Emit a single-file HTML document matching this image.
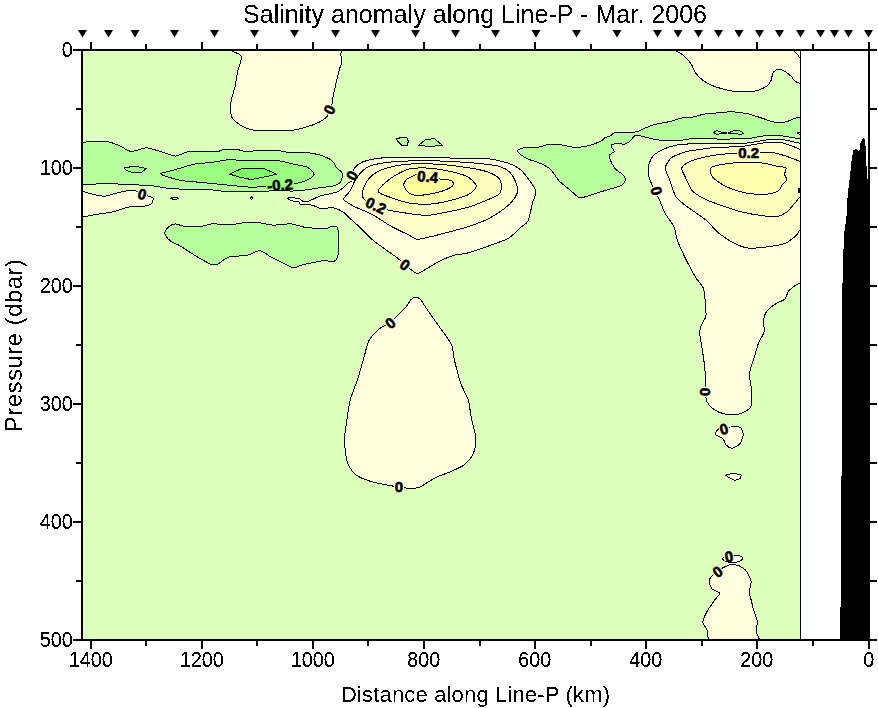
<!DOCTYPE html>
<html><head><meta charset="utf-8"><title>Salinity anomaly along Line-P</title>
<style>html,body{margin:0;padding:0;background:#fff;}body{width:878px;height:708px;overflow:hidden;}svg{display:block;}text{font-family:"Liberation Sans",sans-serif;fill:#000;}</style></head><body>
<svg width="878" height="708" viewBox="0 0 878 708">
<rect width="878" height="708" fill="#fff"/>
<defs><clipPath id="c"><rect x="82" y="50" width="719" height="590"/></clipPath><filter id="t" x="-10%" y="-25%" width="120%" height="150%" color-interpolation-filters="sRGB"><feComponentTransfer><feFuncA type="discrete" tableValues="0 0 0 1 1 1"/></feComponentTransfer></filter><filter id="t2" x="-5%" y="-5%" width="110%" height="110%" color-interpolation-filters="sRGB"><feComponentTransfer><feFuncA type="discrete" tableValues="0 0 1 1 1"/></feComponentTransfer></filter></defs>
<rect x="82" y="50" width="719" height="590" fill="#dcffbc"/>
<g clip-path="url(#c)" stroke="#000" stroke-width="1" stroke-linejoin="round" shape-rendering="crispEdges">
<path d="M232.0,49.0 C218.2,49.2 230.8,50.1 232.0,51.0 C233.2,51.9 240.8,53.9 241.5,56.5 C242.2,59.1 238.3,68.3 237.5,72.1 C236.7,75.8 235.8,83.1 235.1,86.5 C234.3,89.9 232.1,96.4 231.5,99.2 C230.9,102.0 230.3,106.5 230.4,108.8 C230.5,111.1 231.1,115.8 232.0,117.6 C232.9,119.4 235.8,121.8 237.5,123.1 C239.2,124.4 243.3,127.0 245.5,127.9 C247.7,128.8 251.7,130.0 255.1,130.3 C258.5,130.6 268.0,130.6 272.6,130.6 C277.2,130.6 287.6,130.7 291.8,130.3 C296.0,129.9 302.7,128.1 306.1,127.1 C309.5,126.1 316.3,123.6 318.9,122.3 C321.5,121.0 325.5,118.3 326.8,116.8 C328.1,115.2 328.7,111.6 329.4,109.9 C330.1,108.2 331.9,104.9 332.4,103.2 C332.9,101.5 332.7,98.7 333.2,96.0 C333.7,93.3 335.6,85.1 336.4,81.7 C337.2,78.3 338.9,71.5 339.6,68.9 C340.3,66.3 341.9,62.8 342.0,61.0 C342.1,59.2 340.7,55.9 340.7,54.6 C340.7,53.4 341.8,51.7 342.0,51.0 C342.2,50.3 355.8,49.2 342.0,49.0 C328.2,48.8 245.8,48.8 232.0,49.0Z" fill="#ffffdc"/>
<path d="M676.4,49.0 C660.8,49.2 675.5,50.1 676.4,50.9 C677.3,51.7 681.9,53.9 683.7,55.5 C685.5,57.1 689.5,61.5 691.0,63.7 C692.5,65.9 693.9,70.6 695.5,72.8 C697.1,75.0 701.3,79.3 703.7,81.0 C706.1,82.7 710.8,85.2 714.7,86.5 C718.6,87.8 729.7,90.8 734.7,91.4 C739.7,92.0 750.7,91.7 754.8,91.0 C758.9,90.3 765.5,87.0 767.5,85.6 C769.5,84.2 770.5,81.7 771.2,80.1 C771.9,78.5 772.1,74.2 773.0,72.8 C773.9,71.4 776.9,69.3 778.5,69.2 C780.1,69.1 784.1,71.0 785.7,71.9 C787.3,72.8 790.1,75.3 791.2,76.4 C792.4,77.5 793.7,80.1 794.9,81.0 C796.1,81.9 799.7,83.4 800.5,83.7 C801.3,84.0 800.9,88.0 801.0,83.7 C801.1,79.4 816.6,53.3 801.0,49.0 C785.4,44.7 692.0,48.8 676.4,49.0Z" fill="#ffffdc"/>
<path d="M794.0,50.9 C794.4,51.3 796.2,53.1 797.0,54.0 C797.8,54.9 799.6,57.7 800.0,58.2" fill="none"/>
<path d="M81.0,142.3 C81.2,137.1 81.2,142.5 83.0,142.3 C84.8,142.2 92.1,141.2 95.1,141.1 C98.1,141.0 104.0,141.1 107.0,141.6 C110.0,142.1 116.0,144.2 119.0,145.4 C122.0,146.6 127.6,151.1 131.0,151.4 C134.4,151.7 142.7,147.9 146.3,147.9 C149.9,147.9 156.4,150.4 160.0,151.4 C163.6,152.4 172.0,156.0 175.4,156.1 C178.8,156.2 183.5,152.5 187.3,151.9 C191.1,151.3 202.2,151.5 206.1,151.4 C209.9,151.3 215.9,151.6 218.1,151.4 C220.3,151.2 221.1,149.8 223.5,149.6 C225.9,149.4 234.4,149.4 237.2,149.6 C240.0,149.8 243.0,151.3 245.8,151.4 C248.6,151.5 255.6,150.7 259.4,150.5 C263.2,150.3 273.1,150.0 276.5,150.2 C279.9,150.4 283.8,151.9 286.8,152.2 C289.8,152.4 297.4,152.1 300.4,152.2 C303.4,152.3 307.7,152.6 310.7,153.1 C313.7,153.6 321.5,155.4 324.3,156.5 C327.1,157.6 331.4,160.2 332.9,161.6 C334.4,163.0 335.2,166.3 336.3,167.6 C337.4,168.9 340.6,170.7 341.4,171.9 C342.1,173.1 342.5,175.6 342.3,177.0 C342.1,178.4 340.9,181.9 339.7,183.0 C338.5,184.1 335.7,185.4 332.9,186.0 C330.1,186.6 321.6,187.5 317.5,188.1 C313.4,188.7 303.8,190.3 300.4,190.7 C297.0,191.1 293.4,191.0 290.2,191.0 C287.0,191.0 278.9,190.6 274.8,190.7 C270.7,190.8 262.0,191.7 257.7,191.8 C253.4,191.9 244.4,191.5 240.6,191.5 C236.8,191.5 230.7,192.0 227.0,191.8 C223.3,191.6 216.0,190.1 211.3,189.8 C206.6,189.5 194.7,189.7 189.1,189.5 C183.5,189.3 171.7,188.6 166.8,188.1 C161.9,187.6 154.5,185.9 149.8,185.5 C145.1,185.1 134.0,184.9 129.3,184.7 C124.6,184.5 118.0,183.9 112.2,183.8 C106.4,183.8 86.9,184.2 83.0,184.3 C79.1,184.4 81.2,189.6 81.0,184.3 C80.8,179.1 80.8,147.6 81.0,142.3Z" fill="#b6ff9c"/>
<path d="M160.9,174.1 C160.1,172.8 169.5,171.3 173.7,170.1 C177.9,168.9 189.5,165.1 194.2,164.2 C198.9,163.2 207.2,163.0 211.3,162.5 C215.4,162.0 222.7,160.2 227.0,159.9 C231.3,159.6 239.4,160.3 245.8,160.4 C252.2,160.5 272.2,160.3 278.2,160.8 C284.2,161.3 290.0,163.4 293.6,164.2 C297.2,165.0 304.7,166.0 307.3,167.2 C309.9,168.4 314.0,172.6 314.1,174.1 C314.2,175.6 310.5,178.3 308.1,179.5 C305.8,180.7 298.7,183.0 295.3,183.8 C291.9,184.6 284.6,185.7 281.0,186.0 C277.4,186.3 270.1,186.2 266.3,186.4 C262.5,186.6 255.2,187.3 250.9,187.2 C246.6,187.1 236.6,185.9 232.1,185.5 C227.6,185.1 219.0,184.2 214.7,183.8 C210.4,183.4 201.9,182.5 197.6,182.1 C193.3,181.7 185.1,181.4 180.5,180.4 C175.9,179.4 161.8,175.4 160.9,174.1Z" fill="#9bff80"/>
<path d="M124.1,167.9 L134.4,166.2 L146.3,168.4 L141.2,172.7 L132.7,172.7 L126.7,170.7Z" fill="#9bff80"/>
<path d="M229.5,174.1 L240.6,169.0 L263.7,168.4 L276.5,174.1 L264.5,177.0 L250.9,179.5 L238.9,177.0Z" fill="#7cff68"/>
<path d="M81.0,191.5 C81.2,188.3 81.2,191.1 83.0,191.5 C84.8,191.9 92.3,194.3 95.1,194.9 C97.9,195.5 102.3,196.4 105.3,196.1 C108.3,195.8 115.6,193.2 119.0,192.4 C122.4,191.7 130.6,190.2 132.7,190.1 C134.8,189.9 134.9,190.8 136.1,191.2 C137.3,191.6 140.5,192.9 142.1,193.5 C143.7,194.1 147.5,195.7 148.9,196.3 C150.3,196.9 152.9,197.4 153.2,198.3 C153.5,199.2 152.5,202.5 151.5,203.5 C150.5,204.5 148.1,205.6 145.5,206.0 C142.9,206.4 135.2,205.7 131.0,206.4 C126.8,207.2 116.7,211.0 112.2,212.0 C107.7,213.0 98.8,214.0 95.1,214.6 C91.4,215.2 84.8,216.8 83.0,217.1 C81.2,217.4 81.2,220.3 81.0,217.1 C80.8,213.9 80.8,194.7 81.0,191.5Z" fill="#ffffdc"/>
<path d="M170.3,198.3 L175.0,197.0 L178.8,198.3 L175.0,199.8Z" fill="#dcffbc"/>
<path d="M250.0,198.3 L251.4,197.0 L252.8,198.3 L251.4,199.6Z" fill="#dcffbc"/>
<path d="M164.8,233.7 C164.5,232.0 166.9,228.5 168.2,227.3 C169.5,226.1 173.1,224.0 175.1,223.9 C177.1,223.8 180.8,225.9 184.2,226.2 C187.6,226.5 199.0,226.5 202.4,226.2 C205.8,225.9 207.8,224.1 211.5,223.9 C215.2,223.7 227.7,224.8 232.0,224.6 C236.3,224.4 242.6,222.6 245.7,222.3 C248.8,222.0 253.7,222.0 257.1,222.3 C260.5,222.7 268.7,224.9 273.0,225.1 C277.3,225.3 287.2,223.6 291.2,223.9 C295.2,224.2 300.6,226.7 304.9,227.3 C309.2,227.9 322.0,228.6 325.4,228.5 C328.8,228.4 330.8,226.4 332.2,226.2 C333.6,226.0 336.0,225.9 336.8,226.9 C337.6,227.9 338.4,230.7 338.6,234.2 C338.8,237.7 338.6,251.4 338.2,254.7 C337.8,258.0 336.5,259.5 335.6,260.4 C334.7,261.3 332.4,262.0 331.1,262.0 C329.8,262.0 328.1,260.2 325.4,260.4 C322.7,260.6 312.6,262.7 309.5,263.3 C306.4,263.9 302.3,264.8 300.3,265.4 C298.3,266.0 295.5,268.1 293.5,267.9 C291.5,267.7 287.2,265.2 284.4,263.8 C281.5,262.4 273.8,258.5 270.7,256.9 C267.6,255.2 262.9,250.8 260.0,250.6 C257.1,250.4 251.7,254.3 247.9,255.1 C244.1,255.9 232.8,256.2 229.7,256.9 C226.6,257.6 224.3,259.5 222.9,260.4 C221.5,261.3 219.7,263.3 218.3,263.8 C216.9,264.3 214.3,265.5 211.5,264.5 C208.7,263.5 199.6,258.2 195.6,255.8 C191.6,253.4 182.7,247.4 179.6,245.6 C176.5,243.8 172.3,242.5 170.5,241.0 C168.7,239.5 165.1,235.4 164.8,233.7Z" fill="#b6ff9c"/>
<path d="M287.6,198.3 C287.4,197.9 288.8,198.0 290.2,198.0 C291.6,198.0 297.0,197.8 298.7,198.3 C300.4,198.8 302.6,201.4 303.8,201.8 C305.0,202.2 306.0,202.2 308.1,201.4 C310.2,200.7 317.2,197.0 320.9,195.8 C324.6,194.6 334.6,193.1 338.0,191.5 C341.4,189.9 346.4,184.5 348.3,183.0 C350.2,181.5 352.9,180.6 353.4,179.5 C353.9,178.4 352.3,175.5 352.5,174.0 C352.7,172.5 353.5,169.1 354.8,167.6 C356.1,166.1 360.1,163.0 362.8,161.9 C365.5,160.8 372.1,159.1 376.4,158.5 C380.7,157.9 390.1,157.5 396.9,157.3 C403.7,157.2 422.8,157.2 431.1,157.3 C439.4,157.5 456.2,158.3 463.0,158.5 C469.8,158.7 480.7,158.1 485.8,158.5 C490.9,158.9 500.0,160.8 504.0,161.9 C508.0,163.0 514.9,165.8 517.7,167.6 C520.6,169.4 524.5,173.7 526.8,176.7 C529.1,179.7 535.2,188.2 535.9,191.5 C536.6,194.8 533.5,199.2 532.5,202.9 C531.5,206.6 529.5,218.0 527.9,221.1 C526.3,224.2 522.4,225.8 520.0,227.9 C517.6,230.0 512.6,235.9 508.6,238.2 C504.6,240.5 493.1,244.3 488.0,246.2 C482.9,248.0 471.9,251.9 467.6,253.0 C463.3,254.1 457.6,254.2 453.9,255.3 C450.2,256.4 441.6,260.2 437.9,262.1 C434.2,264.0 426.9,268.7 424.3,270.1 C421.7,271.5 419.1,273.6 417.4,273.5 C415.7,273.4 412.2,270.5 410.6,269.4 C409.0,268.3 406.6,265.9 404.9,264.4 C403.2,262.9 399.3,259.5 396.9,257.6 C394.5,255.8 388.7,251.9 385.6,249.6 C382.5,247.3 375.0,242.0 371.9,239.3 C368.8,236.6 363.0,230.3 360.5,227.9 C358.0,225.5 353.9,222.0 351.7,220.0 C349.5,218.0 345.5,213.5 343.1,212.0 C340.8,210.5 335.7,208.1 332.9,207.7 C330.1,207.3 323.5,208.9 320.9,208.6 C318.3,208.3 315.0,205.7 312.4,205.2 C309.8,204.7 302.1,204.7 300.4,204.3 C298.7,203.9 299.8,202.2 298.7,201.8 C297.6,201.4 293.3,201.3 291.9,200.9 C290.5,200.5 287.8,198.7 287.6,198.3Z" fill="#ffffdc"/>
<path d="M343.5,199.0 C343.5,198.6 343.8,198.3 344.6,197.2 C345.5,196.1 348.9,192.7 350.3,190.4 C351.7,188.1 354.0,181.7 355.9,179.0 C357.8,176.3 362.5,170.5 365.1,168.7 C367.7,166.8 372.1,165.1 376.4,164.2 C380.7,163.3 392.4,161.8 399.2,161.4 C406.0,161.0 423.7,160.7 431.1,160.8 C438.5,160.9 451.7,161.5 458.5,161.9 C465.3,162.3 480.7,163.6 485.8,164.2 C490.9,164.8 496.5,165.4 499.5,166.4 C502.5,167.4 507.7,170.2 509.7,172.1 C511.7,174.0 514.4,178.9 515.4,181.3 C516.4,183.7 518.3,188.8 517.7,191.5 C517.1,194.2 513.1,200.3 510.8,202.9 C508.5,205.5 502.6,209.9 499.5,212.0 C496.4,214.1 489.8,218.2 485.8,220.0 C481.8,221.8 472.4,225.2 467.6,226.8 C462.8,228.4 451.7,231.3 447.1,232.5 C442.5,233.7 434.8,235.8 431.1,236.6 C427.4,237.4 420.2,239.5 417.4,239.3 C414.5,239.1 411.7,236.5 408.3,234.8 C404.9,233.1 394.7,228.3 390.1,225.7 C385.6,223.1 376.4,216.7 371.9,214.3 C367.3,211.9 357.1,208.0 353.7,206.3 C350.3,204.6 345.9,201.5 344.6,200.6 C343.3,199.7 343.5,199.4 343.5,199.0Z" fill="#ffffcc"/>
<path d="M362.8,197.2 C362.2,195.8 362.1,192.7 362.8,190.4 C363.5,188.1 366.5,181.4 368.5,179.0 C370.5,176.6 375.4,172.6 378.7,171.0 C382.0,169.4 390.1,166.9 394.7,166.0 C399.3,165.1 409.2,163.9 415.2,163.7 C421.2,163.5 435.9,164.1 442.5,164.6 C449.1,165.1 461.9,166.7 467.6,167.6 C473.3,168.5 484.1,170.7 488.1,172.1 C492.1,173.5 497.9,177.2 499.5,179.0 C501.1,180.8 501.3,185.1 501.3,186.9 C501.3,188.8 501.4,192.1 499.5,193.8 C497.6,195.5 489.8,198.9 485.8,200.6 C481.8,202.3 472.4,206.0 467.6,207.4 C462.8,208.8 452.2,211.0 447.1,212.0 C442.0,213.0 431.7,215.3 426.6,215.4 C421.5,215.5 410.8,213.8 406.1,213.1 C401.4,212.4 392.7,211.1 389.0,210.2 C385.3,209.3 379.1,206.9 376.4,205.8 C373.7,204.8 369.0,202.9 367.3,201.8 C365.6,200.7 363.4,198.6 362.8,197.2Z" fill="#ffffbc"/>
<path d="M378.3,190.4 C378.9,189.0 383.3,184.4 385.6,182.4 C387.9,180.4 393.8,176.1 396.9,174.4 C400.0,172.7 406.3,169.5 410.6,168.7 C414.9,167.9 426.0,167.9 431.1,168.3 C436.2,168.7 447.0,170.6 451.6,171.7 C456.2,172.8 464.5,174.9 467.6,176.7 C470.7,178.5 475.9,183.7 476.2,185.8 C476.5,187.9 472.6,192.1 469.8,193.8 C467.0,195.5 458.7,198.2 453.9,199.5 C449.1,200.8 436.8,203.6 431.1,204.0 C425.4,204.4 413.4,203.8 408.3,202.9 C403.2,202.1 393.5,198.3 390.1,197.2 C386.7,196.1 382.5,194.7 381.0,193.8 C379.5,193.0 377.7,191.8 378.3,190.4Z" fill="#ffffac"/>
<path d="M403.8,184.7 C403.8,183.1 405.5,180.3 407.2,179.0 C408.9,177.7 414.8,174.8 417.4,174.4 C420.0,174.0 425.1,174.9 428.0,175.5 C430.9,176.1 437.2,178.4 440.2,179.0 C443.1,179.6 450.0,179.8 451.6,180.6 C453.2,181.4 453.9,184.5 452.8,185.8 C451.7,187.1 445.5,189.9 442.5,191.0 C439.5,192.1 432.2,193.6 428.8,194.2 C425.4,194.8 417.9,195.7 415.2,195.4 C412.5,195.1 408.6,192.8 407.2,191.5 C405.8,190.2 403.8,186.3 403.8,184.7Z" fill="#ffff9c"/>
<path d="M396.3,139.1 L401.5,137.3 L407.2,138.0 L408.3,141.4 L407.2,145.5 L402.0,145.5 L398.8,142.5Z" fill="#b6ff9c"/>
<path d="M418.6,145.5 L425.4,139.6 L434.5,138.7 L442.5,145.5 L430.0,146.4Z" fill="#b6ff9c"/>
<path d="M517.3,150.7 C517.8,149.8 521.9,148.2 524.6,147.7 C527.3,147.2 536.2,147.4 539.2,147.0 C542.2,146.6 545.8,144.6 548.3,144.3 C550.8,144.0 555.8,144.2 559.2,144.6 C562.6,145.0 571.7,147.3 575.6,147.4 C579.5,147.5 587.0,146.0 590.2,145.2 C593.4,144.4 599.3,141.9 601.1,141.0 C602.9,140.1 603.5,138.6 604.8,137.9 C606.0,137.2 609.9,136.1 611.1,135.5 C612.4,134.9 611.7,133.2 614.8,132.8 C617.9,132.4 631.9,132.5 635.7,131.9 C639.5,131.3 642.6,129.1 644.9,128.2 C647.2,127.3 650.9,125.4 654.0,124.6 C657.1,123.8 666.7,122.3 670.0,121.5 C673.3,120.7 678.2,118.6 680.7,118.1 C683.2,117.6 687.1,118.2 690.0,117.7 C692.9,117.2 700.6,114.8 704.1,114.2 C707.6,113.6 714.7,113.1 718.2,112.8 C721.7,112.5 728.9,111.7 732.4,111.8 C735.9,111.9 743.0,112.8 746.5,113.5 C750.0,114.2 757.1,116.6 760.6,117.7 C764.1,118.8 771.5,121.7 774.7,122.2 C777.9,122.7 783.5,122.4 786.0,121.9 C788.5,121.4 792.7,119.0 794.5,118.4 C796.3,117.8 799.7,117.5 800.5,117.4 C801.3,117.3 800.9,114.7 801.0,117.4 C801.1,120.1 801.1,136.2 801.0,138.9 C800.9,141.6 801.7,139.1 800.5,138.9 C799.3,138.7 793.9,137.9 791.6,137.5 C789.3,137.1 784.6,136.1 781.8,135.8 C779.0,135.5 772.1,135.3 769.1,135.4 C766.1,135.5 760.6,136.4 757.8,136.8 C755.0,137.2 749.7,138.6 746.5,138.9 C743.3,139.2 735.9,138.8 732.4,138.9 C728.9,139.0 720.3,139.7 718.2,139.6 C716.1,139.5 717.2,138.4 715.4,138.2 C713.6,138.0 707.3,138.1 704.1,138.2 C700.9,138.3 692.9,138.7 690.0,138.9 C687.1,139.2 684.4,140.0 680.7,140.2 C677.0,140.4 664.1,140.4 660.3,140.2 C656.5,140.0 653.1,138.9 650.3,138.3 C647.5,137.7 639.6,135.4 637.6,135.2 C635.6,135.0 634.8,135.7 633.9,136.4 C633.0,137.1 631.5,140.0 630.3,141.0 C629.0,142.0 625.3,144.0 623.9,144.3 C622.5,144.6 620.8,143.4 619.3,143.4 C617.8,143.4 613.1,144.2 612.1,144.6 C611.1,145.0 610.8,145.7 611.1,146.5 C611.4,147.3 614.4,150.4 614.2,151.4 C614.1,152.4 610.5,153.9 609.9,154.7 C609.3,155.4 608.7,155.7 609.3,157.4 C609.9,159.1 613.5,166.5 614.8,168.3 C616.0,170.1 618.2,171.1 619.3,172.0 C620.4,172.9 623.2,174.6 623.9,175.6 C624.6,176.6 625.5,178.9 625.2,180.2 C624.9,181.4 623.8,184.3 621.2,185.6 C618.7,186.9 609.8,189.1 604.8,190.6 C599.8,192.1 584.6,197.3 581.1,197.9 C577.6,198.5 578.0,196.8 576.5,195.7 C575.0,194.6 571.4,191.1 569.2,189.3 C567.0,187.5 561.0,182.9 559.2,181.1 C557.4,179.3 555.9,176.3 554.6,174.7 C553.4,173.1 551.2,169.8 549.2,168.3 C547.2,166.8 540.8,163.6 538.2,162.5 C535.6,161.4 530.4,160.2 528.2,159.2 C526.0,158.2 522.3,155.8 520.9,154.7 C519.5,153.6 516.8,151.6 517.3,150.7Z" fill="#b6ff9c"/>
<path d="M713.3,132.6 L717.0,130.6 L721.0,132.0 L726.7,133.0 L721.0,133.6 L717.0,134.6Z" fill="#9bff80"/>
<path d="M728.1,133.0 L733.0,131.0 L737.0,130.2 L741.0,131.4 L743.6,133.4 L740.0,134.6 L736.0,133.2 L731.0,133.4Z" fill="#9bff80"/>
<path d="M797.3,133.0 L799.0,132.0 L801.0,132.0 L801.0,134.0 L799.0,134.0Z" fill="#9bff80"/>
<path d="M801.0,143.4 C800.9,126.0 801.7,143.7 800.5,143.4 C799.3,143.2 793.9,141.9 791.6,141.4 C789.3,140.9 784.6,139.8 781.8,139.6 C779.0,139.4 772.1,139.4 769.1,139.6 C766.1,139.8 760.6,141.0 757.8,141.4 C755.0,141.8 749.7,142.8 746.5,143.1 C743.3,143.3 737.7,143.4 732.4,143.4 C727.1,143.4 709.4,143.0 704.1,143.1 C698.8,143.2 693.5,143.5 690.0,143.8 C686.5,144.1 679.3,144.6 676.2,145.2 C673.1,145.8 667.7,147.3 664.9,148.6 C662.1,149.9 655.6,153.3 653.6,155.4 C651.6,157.5 649.2,162.9 648.6,165.6 C648.0,168.3 648.7,174.7 649.0,176.9 C649.3,179.1 650.6,181.3 651.2,183.0 C651.8,184.7 653.0,188.3 654.0,190.4 C655.0,192.5 657.8,196.7 659.2,199.5 C660.6,202.3 663.1,209.6 664.9,213.0 C666.7,216.4 672.4,223.2 673.9,226.6 C675.4,230.0 676.2,237.0 677.3,240.2 C678.4,243.4 681.0,248.9 682.6,252.4 C684.2,255.9 688.6,264.7 690.4,268.0 C692.1,271.3 695.0,276.3 696.6,278.8 C698.2,281.3 702.3,285.3 703.4,288.2 C704.5,291.1 705.0,298.6 705.3,302.1 C705.6,305.6 706.4,313.2 705.9,316.1 C705.4,319.0 702.1,323.3 701.3,325.4 C700.5,327.5 699.6,330.5 699.7,333.2 C699.8,335.9 701.3,343.3 701.9,347.2 C702.5,351.1 704.0,360.6 704.4,364.3 C704.8,368.0 705.2,373.3 705.3,376.7 C705.4,380.1 705.1,388.5 705.3,391.6 C705.5,394.7 705.8,399.4 706.9,401.6 C708.0,403.8 711.5,407.8 713.7,409.3 C715.9,410.9 721.7,413.3 724.6,414.0 C727.5,414.7 734.3,415.0 737.0,414.6 C739.7,414.2 744.5,412.1 746.3,410.9 C748.1,409.7 751.0,407.8 751.6,404.7 C752.2,401.6 751.3,389.9 751.0,386.0 C750.7,382.1 749.0,377.1 749.4,373.6 C749.8,370.1 752.9,362.0 754.1,358.1 C755.3,354.2 757.4,345.8 758.7,342.5 C760.0,339.2 763.7,334.4 764.3,331.7 C764.9,329.0 763.1,323.3 763.4,320.8 C763.7,318.3 765.0,313.6 766.5,311.5 C768.0,309.4 773.5,305.3 775.8,303.7 C778.1,302.1 783.5,300.6 785.1,299.0 C786.7,297.4 786.9,293.1 788.3,291.3 C789.7,289.6 794.5,286.1 796.0,285.0 C797.5,283.9 799.9,283.2 800.5,282.9 C801.1,282.6 800.9,300.3 801.0,282.9 C801.1,265.5 801.1,160.8 801.0,143.4Z" fill="#ffffdc"/>
<path d="M801.0,149.5 C800.9,139.6 801.7,149.9 800.5,149.5 C799.3,149.1 793.9,146.7 791.6,145.9 C789.3,145.1 784.6,143.2 781.8,142.8 C779.0,142.4 772.1,142.3 769.1,142.4 C766.1,142.5 760.6,143.4 757.8,143.8 C755.0,144.2 749.7,145.5 746.5,145.9 C743.3,146.3 736.3,146.7 732.4,146.9 C728.5,147.1 718.9,147.2 715.4,147.4 C711.9,147.6 707.3,148.4 704.1,148.8 C700.9,149.2 692.4,150.5 690.0,150.9 C687.6,151.3 687.5,151.2 685.2,152.0 C682.9,152.8 674.1,155.6 671.6,157.6 C669.1,159.6 665.6,165.1 665.3,167.8 C665.0,170.5 668.0,175.4 669.4,179.1 C670.8,182.8 673.7,193.5 676.2,197.2 C678.7,200.9 686.0,205.7 689.7,208.5 C693.4,211.3 701.9,216.7 705.6,219.8 C709.3,222.9 715.4,230.4 719.1,233.4 C722.8,236.4 731.2,241.8 734.9,243.6 C738.6,245.4 744.5,247.7 748.5,248.1 C752.5,248.5 762.1,247.5 766.6,246.9 C771.1,246.3 781.0,245.0 784.7,243.6 C788.4,242.2 794.0,237.4 796.0,235.6 C798.0,233.8 799.9,229.7 800.5,228.9 C801.1,228.1 800.9,238.8 801.0,228.9 C801.1,219.0 801.1,159.4 801.0,149.5Z" fill="#ffffcc"/>
<path d="M801.0,161.5 C800.9,157.2 802.4,162.2 800.5,161.5 C798.6,160.8 789.2,157.2 786.0,156.1 C782.8,155.0 777.8,153.5 774.7,153.0 C771.6,152.5 764.6,152.3 761.3,152.3 C758.0,152.3 751.9,152.7 748.6,152.8 C745.3,152.9 739.0,153.2 735.2,153.4 C731.4,153.6 722.1,154.2 718.2,154.7 C714.3,155.2 707.6,156.3 704.1,157.2 C700.6,158.0 692.8,160.2 690.0,161.5 C687.2,162.8 682.4,165.9 681.8,167.8 C681.2,169.7 683.9,174.1 685.2,176.9 C686.5,179.7 689.5,187.6 692.0,190.4 C694.5,193.2 701.6,197.5 705.6,199.5 C709.6,201.5 719.1,204.6 723.6,206.2 C728.1,207.8 736.9,210.7 741.7,211.9 C746.5,213.1 757.6,215.1 762.1,215.7 C766.6,216.3 774.8,216.9 777.9,216.4 C781.0,215.9 784.6,213.7 786.9,211.9 C789.2,210.1 794.3,203.7 796.0,201.7 C797.7,199.7 799.9,196.8 800.5,196.1 C801.1,195.4 800.9,200.4 801.0,196.1 C801.1,191.8 801.1,165.8 801.0,161.5Z" fill="#ffffbc"/>
<path d="M710.5,169.2 C710.8,168.1 711.4,167.1 713.3,166.4 C715.1,165.8 722.0,164.5 725.3,164.0 C728.6,163.5 735.3,162.7 739.4,162.5 C743.5,162.3 754.1,162.3 757.8,162.5 C761.5,162.7 766.6,163.8 769.1,164.3 C771.6,164.8 775.4,166.0 777.5,166.4 C779.6,166.8 785.1,166.8 786.0,167.8 C786.9,168.8 784.5,172.7 784.6,174.2 C784.7,175.7 787.1,178.4 786.7,179.8 C786.4,181.2 782.8,184.2 781.8,185.5 C780.8,186.8 780.5,189.3 778.9,190.4 C777.3,191.5 772.5,193.5 769.1,193.9 C765.8,194.3 756.0,194.2 752.1,193.9 C748.2,193.6 741.4,192.1 738.0,191.1 C734.6,190.1 728.1,187.6 725.3,186.2 C722.5,184.8 717.2,181.2 715.4,179.8 C713.6,178.4 711.8,176.2 711.2,174.9 C710.6,173.6 710.2,170.3 710.5,169.2Z" fill="#ffffac"/>
<path d="M715.2,434.2 C714.8,432.8 718.0,428.9 719.9,428.0 C721.8,427.1 728.3,427.1 730.8,427.0 C733.3,426.9 738.5,426.4 740.1,427.3 C741.7,428.2 743.2,432.2 743.2,434.2 C743.2,436.2 741.5,441.8 740.1,443.5 C738.7,445.2 734.0,448.0 732.3,448.2 C730.5,448.4 727.3,446.2 726.1,445.0 C724.9,443.8 724.4,440.2 723.0,438.8 C721.6,437.4 715.6,435.6 715.2,434.2Z" fill="#ffffdc"/>
<path d="M725.6,475.1 L733.6,473.2 L741.2,475.1 L740.3,478.6 L735.0,480.5 L728.3,477.3Z" fill="#ffffdc"/>
<path d="M722.4,558.3 C723.2,557.5 731.2,555.8 733.6,555.6 C736.0,555.4 740.1,555.9 741.2,556.4 C742.3,556.9 742.8,558.9 742.2,559.6 C741.6,560.3 738.2,562.0 736.3,562.3 C734.4,562.6 728.6,562.2 726.9,561.7 C725.2,561.2 721.6,559.1 722.4,558.3Z" fill="#ffffdc"/>
<path d="M708.2,641.0 C701.8,640.7 708.4,640.2 708.2,638.7 C708.0,637.2 707.5,631.3 706.8,629.3 C706.1,627.3 702.8,624.8 702.8,622.6 C702.8,620.4 705.3,614.8 706.8,611.9 C708.3,609.0 713.3,602.1 714.9,599.8 C716.5,597.4 720.0,594.4 719.7,593.1 C719.4,591.8 713.5,590.6 712.2,589.1 C710.9,587.6 709.0,582.7 709.0,581.0 C709.0,579.3 711.1,577.0 712.2,575.7 C713.3,574.5 716.0,572.1 717.5,571.0 C719.0,569.9 722.6,567.9 724.3,567.1 C726.0,566.3 729.2,564.6 731.0,564.4 C732.8,564.2 737.2,565.1 739.0,565.8 C740.8,566.5 744.2,568.4 745.7,570.3 C747.2,572.2 750.7,578.3 751.1,581.0 C751.5,583.7 749.2,589.4 749.2,591.8 C749.2,594.1 750.5,597.4 751.1,599.8 C751.7,602.1 753.0,607.9 753.8,610.6 C754.6,613.3 756.9,618.6 757.2,621.3 C757.5,624.0 756.2,629.8 756.4,632.0 C756.6,634.2 758.8,637.6 759.1,638.7 C759.4,639.8 765.5,640.7 759.1,641.0 C752.7,641.3 714.6,641.3 708.2,641.0Z" fill="#ffffdc"/>
<path d="M415.4,297.4 C416.6,297.3 418.7,297.6 420.1,299.0 C421.5,300.4 424.2,305.2 426.3,308.3 C428.4,311.4 434.1,319.3 437.2,323.8 C440.3,328.3 449.1,339.5 451.2,344.0 C453.3,348.5 453.1,354.7 454.3,359.6 C455.5,364.5 458.8,377.8 460.5,382.9 C462.2,387.9 466.9,395.5 468.3,400.0 C469.7,404.5 470.4,413.8 471.4,418.6 C472.4,423.5 475.8,434.3 476.0,438.8 C476.2,443.3 474.4,451.0 472.9,454.3 C471.3,457.6 466.3,463.1 463.6,465.2 C460.9,467.3 454.7,469.8 451.2,471.4 C447.7,472.9 439.5,475.7 435.6,477.6 C431.7,479.5 423.2,485.5 420.1,486.9 C417.0,488.3 413.4,488.5 410.8,488.5 C408.2,488.5 401.7,487.4 399.0,487.0 C396.3,486.6 392.6,486.1 389.0,485.4 C385.4,484.7 374.5,482.6 370.4,481.3 C366.3,480.0 359.1,477.1 356.4,475.1 C353.7,473.1 350.0,468.0 348.6,465.2 C347.2,462.4 346.0,456.3 345.5,452.8 C345.0,449.3 344.4,441.5 344.6,437.2 C344.8,432.9 346.4,423.2 347.1,418.6 C347.8,414.0 348.8,405.1 350.2,400.0 C351.6,394.9 356.2,383.6 358.0,378.2 C359.8,372.8 362.8,361.2 364.2,356.5 C365.6,351.8 366.9,344.4 368.8,340.9 C370.7,337.4 377.1,330.8 379.7,328.5 C382.3,326.2 387.9,324.4 390.0,322.9 C392.1,321.3 394.8,318.1 396.8,316.1 C398.8,314.1 404.4,308.7 406.1,306.7 C407.9,304.7 409.6,301.1 410.8,299.9 C412.0,298.7 414.2,297.5 415.4,297.4Z" fill="#ffffdc"/>
</g>
<g font-size="15" font-weight="bold" text-anchor="middle" stroke="#000" stroke-width="0.6">
<g transform="translate(329.4,109.8) rotate(-65)"><rect x="-5.0" y="-4" width="10" height="8" fill="#ffffdc" stroke="none"/><text x="0" y="5.4">0</text></g>
<g transform="translate(142.1,194.0) rotate(15)"><rect x="-5.0" y="-4" width="10" height="8" fill="#ffffdc" stroke="none"/><text x="0" y="5.4">0</text></g>
<g transform="translate(280.0,184.9) rotate(-4)"><rect x="-14.0" y="-4" width="28" height="8" fill="#9bff80" stroke="none"/><text x="0" y="5.4">-0.2</text></g>
<g transform="translate(351.9,175.5) rotate(-62)"><rect x="-5.0" y="-4" width="10" height="8" fill="#ffffdc" stroke="none"/><text x="0" y="5.4">0</text></g>
<g transform="translate(427.8,176.6) rotate(6)"><rect x="-11.5" y="-4" width="23" height="8" fill="#ffffac" stroke="none"/><text x="0" y="5.4">0.4</text></g>
<g transform="translate(376.0,205.5) rotate(25)"><rect x="-11.5" y="-4" width="23" height="8" fill="#ffffcc" stroke="none"/><text x="0" y="5.4">0.2</text></g>
<g transform="translate(404.9,264.6) rotate(35)"><rect x="-5.0" y="-4" width="10" height="8" fill="#ffffdc" stroke="none"/><text x="0" y="5.4">0</text></g>
<g transform="translate(748.6,153.0) rotate(0)"><rect x="-11.5" y="-4" width="23" height="8" fill="#ffffcc" stroke="none"/><text x="0" y="5.4">0.2</text></g>
<g transform="translate(656.5,191.0) rotate(75)"><rect x="-5.0" y="-4" width="10" height="8" fill="#ffffdc" stroke="none"/><text x="0" y="5.4">0</text></g>
<g transform="translate(390.2,322.9) rotate(-40)"><rect x="-5.0" y="-4" width="10" height="8" fill="#ffffdc" stroke="none"/><text x="0" y="5.4">0</text></g>
<g transform="translate(399.0,486.5) rotate(0)"><rect x="-5.0" y="-4" width="10" height="8" fill="#ffffdc" stroke="none"/><text x="0" y="5.4">0</text></g>
<g transform="translate(705.5,391.8) rotate(90)"><rect x="-5.0" y="-4" width="10" height="8" fill="#ffffdc" stroke="none"/><text x="0" y="5.4">0</text></g>
<g transform="translate(724.0,428.9) rotate(-15)"><rect x="-5.0" y="-4" width="10" height="8" fill="#ffffdc" stroke="none"/><text x="0" y="5.4">0</text></g>
<g transform="translate(728.8,556.4) rotate(-10)"><rect x="-5.0" y="-4" width="10" height="8" fill="#ffffdc" stroke="none"/><text x="0" y="5.4">0</text></g>
<g transform="translate(717.5,571.7) rotate(-35)"><rect x="-5.0" y="-4" width="10" height="8" fill="#ffffdc" stroke="none"/><text x="0" y="5.4">0</text></g>
</g>
<rect x="800" y="50" width="1" height="590" fill="#000"/>
<rect x="798" y="188" width="2" height="5" fill="#000"/>
<path d="M840.0,640.0 L840.0,607.0 L841.0,607.0 L841.0,476.0 L842.0,476.0 L842.0,290.0 L842.7,280.0 L843.2,255.6 L844.3,233.0 L846.6,214.9 L847.7,194.6 L850.0,176.5 L851.8,158.4 L853.4,150.5 L856.0,148.6 L858.2,150.8 L859.6,149.6 L860.8,141.5 L863.5,138.1 L865.1,139.2 L866.2,158.4 L867.0,178.8 L868.0,180.0 L869.0,180.0 L869.0,640.0Z" fill="#000" shape-rendering="crispEdges"/>
<g fill="#000" shape-rendering="crispEdges">
<rect x="73" y="49" width="804" height="2"/>
<rect x="81" y="49" width="2" height="592"/>
<rect x="81" y="639" width="796" height="2"/>
<rect x="868" y="42" width="2" height="607"/>
<rect x="73" y="49" width="9" height="2"/>
<rect x="869" y="49" width="8" height="2"/>
<rect x="76" y="108" width="6" height="2"/>
<rect x="869" y="108" width="8" height="2"/>
<rect x="73" y="167" width="9" height="2"/>
<rect x="869" y="167" width="8" height="2"/>
<rect x="76" y="226" width="6" height="2"/>
<rect x="869" y="226" width="8" height="2"/>
<rect x="73" y="285" width="9" height="2"/>
<rect x="869" y="285" width="8" height="2"/>
<rect x="76" y="344" width="6" height="2"/>
<rect x="869" y="344" width="8" height="2"/>
<rect x="73" y="403" width="9" height="2"/>
<rect x="869" y="403" width="8" height="2"/>
<rect x="76" y="462" width="6" height="2"/>
<rect x="869" y="462" width="8" height="2"/>
<rect x="73" y="521" width="9" height="2"/>
<rect x="869" y="521" width="8" height="2"/>
<rect x="76" y="580" width="6" height="2"/>
<rect x="869" y="580" width="8" height="2"/>
<rect x="73" y="639" width="9" height="2"/>
<rect x="869" y="639" width="8" height="2"/>
<rect x="868" y="42" width="2" height="8"/>
<rect x="868" y="640" width="2" height="9"/>
<rect x="812" y="44" width="2" height="6"/>
<rect x="812" y="640" width="2" height="6"/>
<rect x="756" y="42" width="2" height="8"/>
<rect x="756" y="640" width="2" height="9"/>
<rect x="701" y="44" width="2" height="6"/>
<rect x="701" y="640" width="2" height="6"/>
<rect x="645" y="42" width="2" height="8"/>
<rect x="645" y="640" width="2" height="9"/>
<rect x="590" y="44" width="2" height="6"/>
<rect x="590" y="640" width="2" height="6"/>
<rect x="534" y="42" width="2" height="8"/>
<rect x="534" y="640" width="2" height="9"/>
<rect x="479" y="44" width="2" height="6"/>
<rect x="479" y="640" width="2" height="6"/>
<rect x="423" y="42" width="2" height="8"/>
<rect x="423" y="640" width="2" height="9"/>
<rect x="367" y="44" width="2" height="6"/>
<rect x="367" y="640" width="2" height="6"/>
<rect x="312" y="42" width="2" height="8"/>
<rect x="312" y="640" width="2" height="9"/>
<rect x="256" y="44" width="2" height="6"/>
<rect x="256" y="640" width="2" height="6"/>
<rect x="201" y="42" width="2" height="8"/>
<rect x="201" y="640" width="2" height="9"/>
<rect x="145" y="44" width="2" height="6"/>
<rect x="145" y="640" width="2" height="6"/>
<rect x="90" y="42" width="2" height="8"/>
<rect x="90" y="640" width="2" height="9"/>
</g>
<g fill="#000">
<path d="M78.0,30 L87.0,30 L82.5,37.5Z"/>
<path d="M104.0,30 L113.0,30 L108.5,37.5Z"/>
<path d="M130.5,30 L139.5,30 L135,37.5Z"/>
<path d="M170.0,30 L179.0,30 L174.5,37.5Z"/>
<path d="M210.0,30 L219.0,30 L214.5,37.5Z"/>
<path d="M250.0,30 L259.0,30 L254.5,37.5Z"/>
<path d="M290.0,30 L299.0,30 L294.5,37.5Z"/>
<path d="M331.0,30 L340.0,30 L335.5,37.5Z"/>
<path d="M371.0,30 L380.0,30 L375.5,37.5Z"/>
<path d="M411.0,30 L420.0,30 L415.5,37.5Z"/>
<path d="M451.0,30 L460.0,30 L455.5,37.5Z"/>
<path d="M491.0,30 L500.0,30 L495.5,37.5Z"/>
<path d="M531.5,30 L540.5,30 L536,37.5Z"/>
<path d="M572.0,30 L581.0,30 L576.5,37.5Z"/>
<path d="M612.5,30 L621.5,30 L617,37.5Z"/>
<path d="M653.0,30 L662.0,30 L657.5,37.5Z"/>
<path d="M673.5,30 L682.5,30 L678,37.5Z"/>
<path d="M694.0,30 L703.0,30 L698.5,37.5Z"/>
<path d="M714.0,30 L723.0,30 L718.5,37.5Z"/>
<path d="M734.5,30 L743.5,30 L739,37.5Z"/>
<path d="M755.0,30 L764.0,30 L759.5,37.5Z"/>
<path d="M775.0,30 L784.0,30 L779.5,37.5Z"/>
<path d="M796.0,30 L805.0,30 L800.5,37.5Z"/>
<path d="M816.0,30 L825.0,30 L820.5,37.5Z"/>
<path d="M830.0,30 L839.0,30 L834.5,37.5Z"/>
<path d="M844.0,30 L853.0,30 L848.5,37.5Z"/>
<path d="M864.0,30 L873.0,30 L868.5,37.5Z"/>
</g>
<g font-size="22" filter="url(#t2)">
<text transform="translate(72.8,57.1) scale(0.9,1)" text-anchor="end">0</text>
<text transform="translate(72.8,175.1) scale(0.9,1)" text-anchor="end">100</text>
<text transform="translate(72.8,293.1) scale(0.9,1)" text-anchor="end">200</text>
<text transform="translate(72.8,411.1) scale(0.9,1)" text-anchor="end">300</text>
<text transform="translate(72.8,529.1) scale(0.9,1)" text-anchor="end">400</text>
<text transform="translate(72.8,647.1) scale(0.9,1)" text-anchor="end">500</text>
<text transform="translate(868.8,666.6) scale(0.9,1)" text-anchor="middle">0</text>
<text transform="translate(756.8,666.6) scale(0.9,1)" text-anchor="middle">200</text>
<text transform="translate(645.8,666.6) scale(0.9,1)" text-anchor="middle">400</text>
<text transform="translate(534.8,666.6) scale(0.9,1)" text-anchor="middle">600</text>
<text transform="translate(423.8,666.6) scale(0.9,1)" text-anchor="middle">800</text>
<text transform="translate(312.8,666.6) scale(0.9,1)" text-anchor="middle">1000</text>
<text transform="translate(201.8,666.6) scale(0.9,1)" text-anchor="middle">1200</text>
<text transform="translate(90.8,666.6) scale(0.9,1)" text-anchor="middle">1400</text>
</g>
<g filter="url(#t)">
<text x="243" y="22.5" font-size="25" textLength="464" lengthAdjust="spacing">Salinity anomaly along Line-P - Mar. 2006</text>
<text x="341" y="702.3" font-size="22" textLength="269" lengthAdjust="spacing">Distance along Line-P (km)</text>
<text transform="translate(21.7,432.2) rotate(-90)" font-size="24" textLength="173" lengthAdjust="spacing">Pressure (dbar)</text>
</g>
</svg></body></html>
